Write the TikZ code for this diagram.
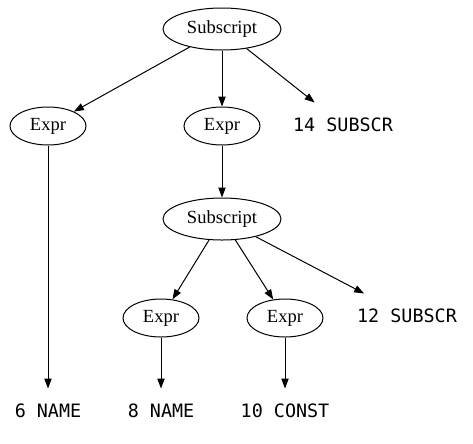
\documentclass[tikz,border=0pt]{standalone}
\usepackage{fontspec}
\setmainfont{Liberation Serif}
\newfontfamily\codefont{DejaVu Sans Mono}
\usetikzlibrary{shapes.geometric,arrows.meta}
\begin{document}
\begin{tikzpicture}[x=0.75pt,y=-0.75pt,line width=0.75pt,
  every node/.style={font=\fontsize{13.9}{16}\selectfont},
  big/.style={draw,ellipse,inner sep=0pt,minimum width=88.5pt,minimum height=31.5pt},
  small/.style={draw,ellipse,inner sep=0pt,minimum width=57pt,minimum height=28.5pt},
  tok/.style={inner sep=0pt,minimum height=33pt,font=\codefont\fontsize{13.8}{16}\selectfont},
  edge/.style={-{Triangle[length=7.5pt,width=5.5pt]}}]
  \useasboundingbox (0,0) rectangle (473,443);
  \node[big] (sub1) at (222,29) {Subscript};
  \node[small] (expr1) at (48,126) {Expr};
  \node[small] (expr2) at (222,126) {Expr};
  \node[tok] (lbl14) at (343,125) {14 SUBSCR};
  \node[big] (sub2) at (222,219) {Subscript};
  \node[small] (expr3) at (161,318) {Expr};
  \node[small] (expr4) at (285,318) {Expr};
  \node[tok] (lbl12) at (407,316) {12 SUBSCR};
  \node[tok] (lbl6) at (48,411) {6 NAME};
  \node[tok] (lbl8) at (161,411) {8 NAME};
  \node[tok] (lbl10) at (285,411) {10 CONST};
  \draw[edge] (sub1) -- (expr1);
  \draw[edge] (sub1) -- (expr2);
  \draw[edge] (sub1) -- (lbl14);
  \draw[edge] (expr2) -- (sub2);
  \draw[edge] (sub2) -- (expr3);
  \draw[edge] (sub2) -- (expr4);
  \draw[edge] (sub2) -- (lbl12);
  \draw[edge] (expr1) -- (lbl6);
  \draw[edge] (expr3) -- (lbl8);
  \draw[edge] (expr4) -- (lbl10);
\end{tikzpicture}
\end{document}
